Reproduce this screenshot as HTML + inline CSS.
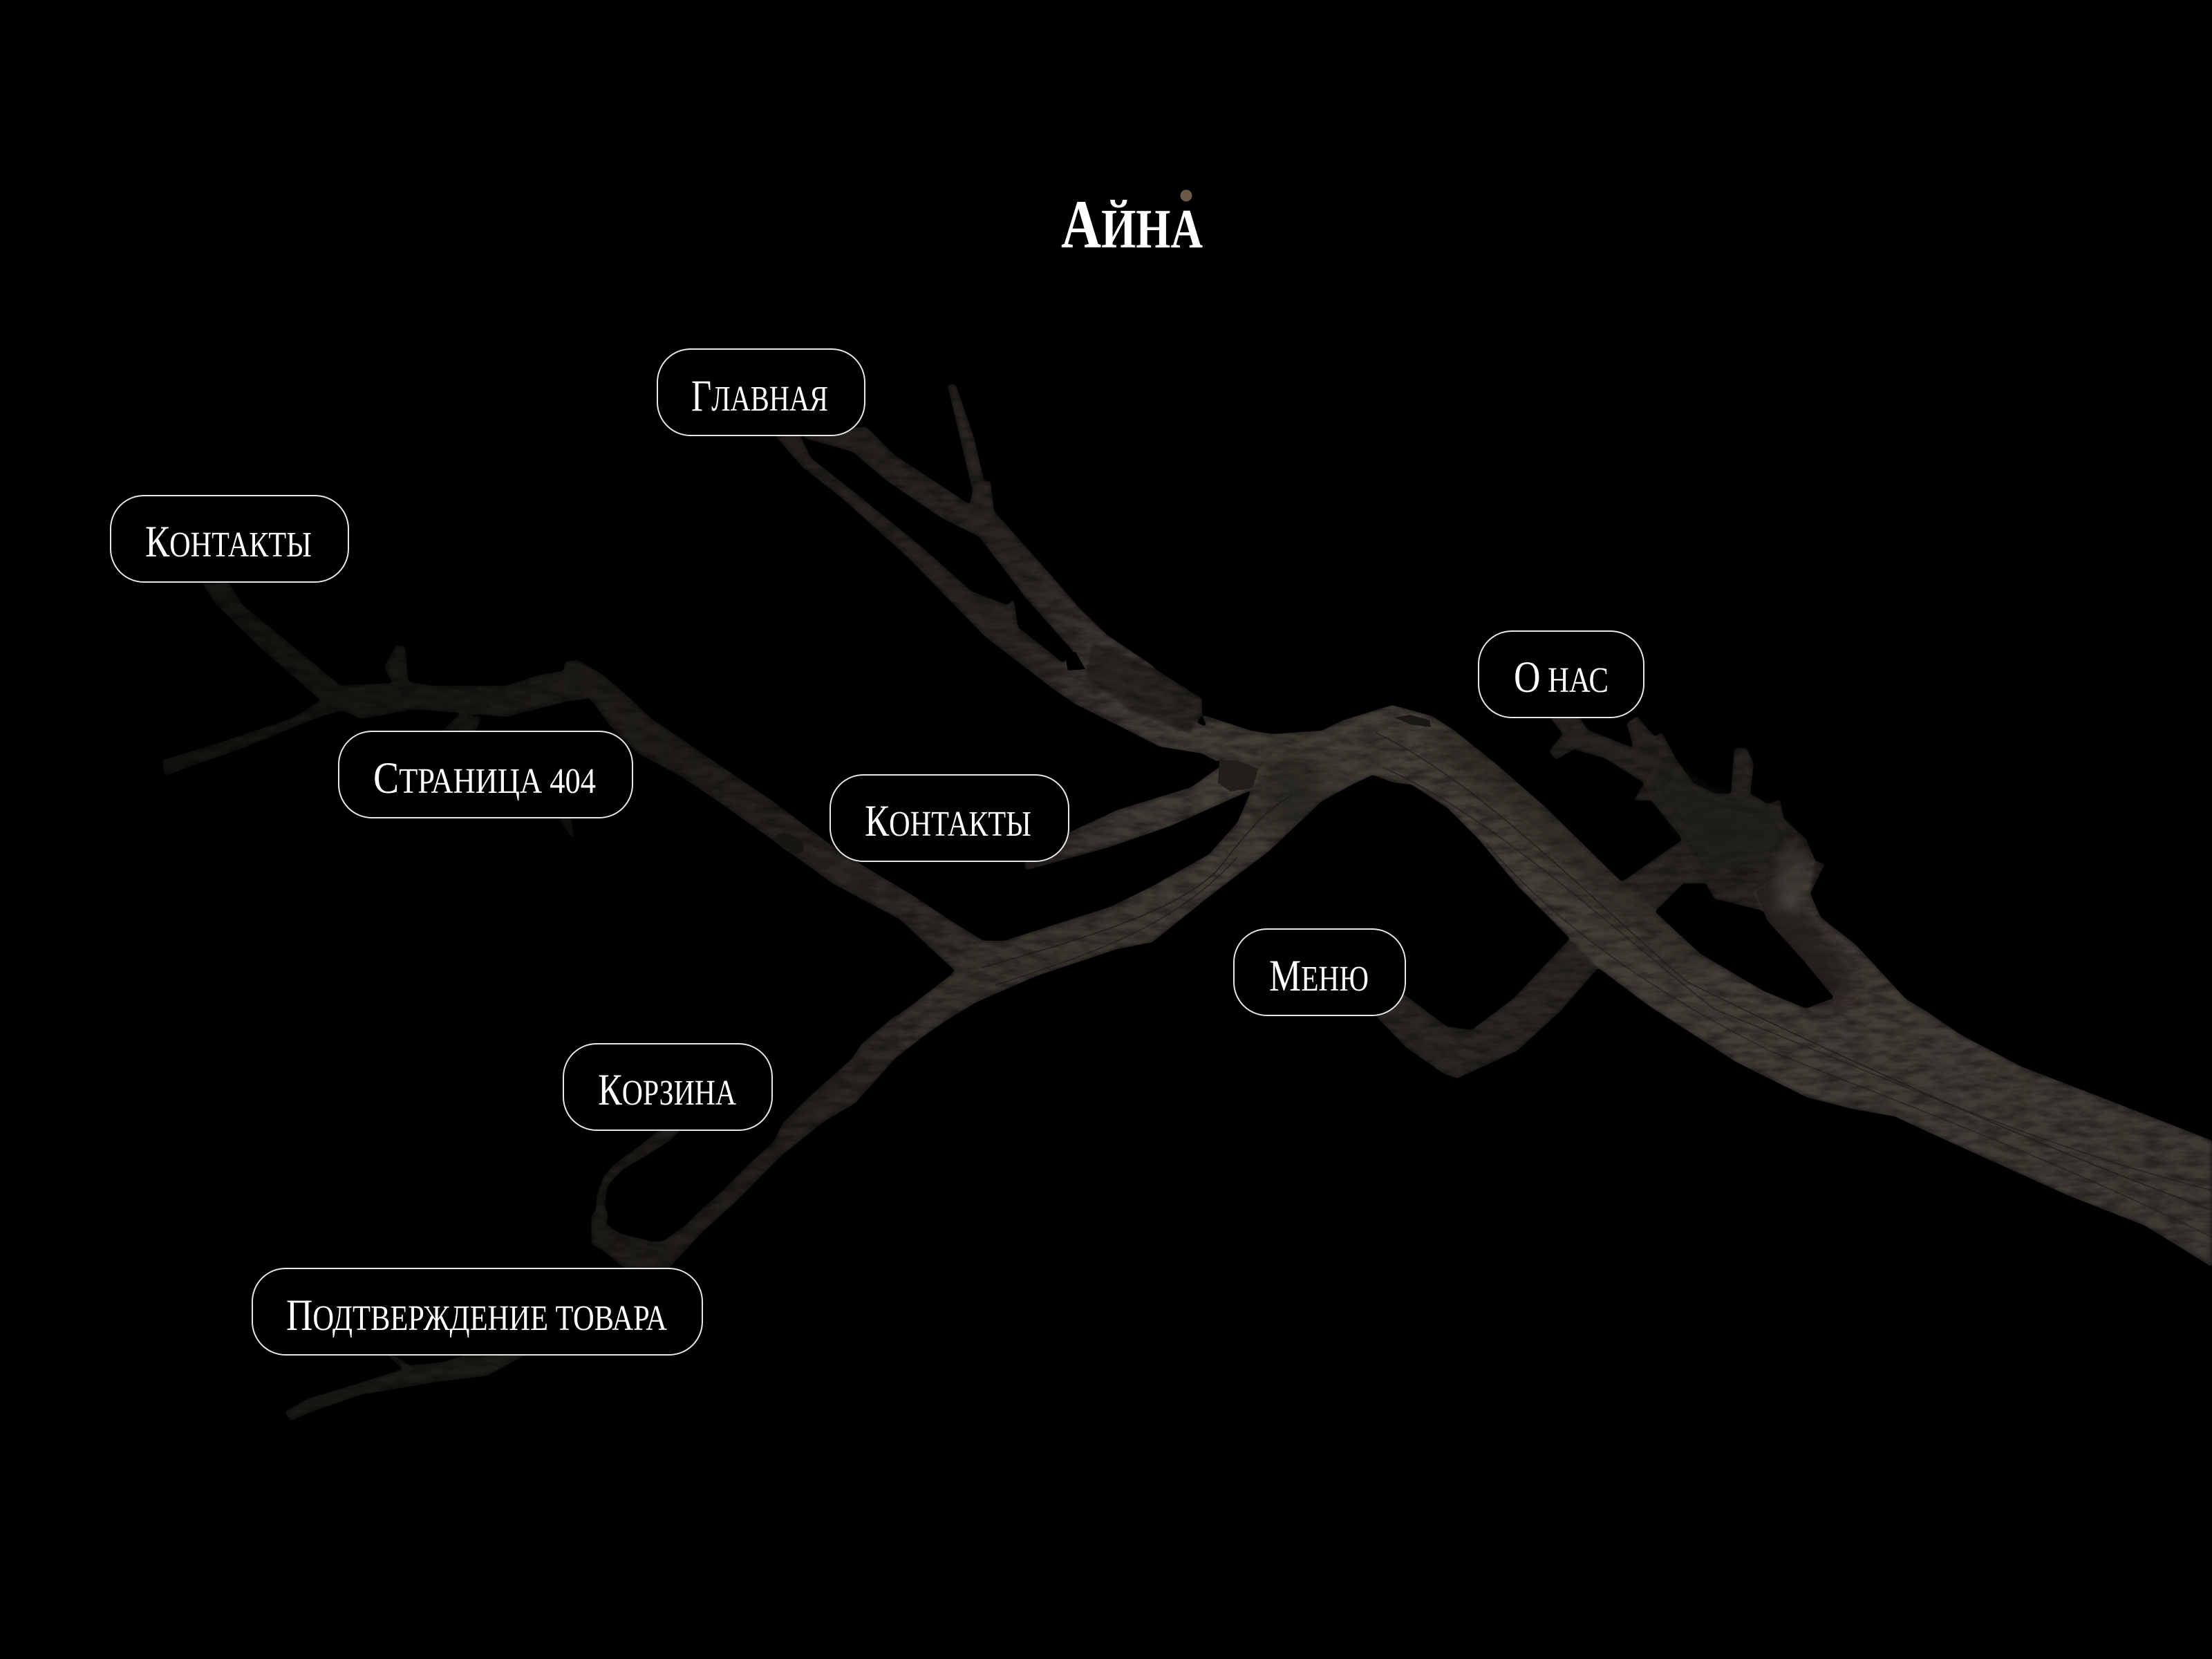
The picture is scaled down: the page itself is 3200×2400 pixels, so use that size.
<!DOCTYPE html>
<html lang="ru"><head><meta charset="utf-8"><title>Айна</title>
<style>
html,body{margin:0;padding:0;background:#000;width:3200px;height:2400px;overflow:hidden}
svg{display:block}
.t{font-family:"Liberation Serif","Noto Serif CJK SC",serif;fill:#fff;text-transform:uppercase}
.b{fill:#000;stroke:#e8e8e8;stroke-width:2}
</style></head><body>
<svg width="3200" height="2400" viewBox="0 0 3200 2400" xmlns="http://www.w3.org/2000/svg">
<defs>
<linearGradient id="g" gradientUnits="userSpaceOnUse" x1="200" y1="0" x2="2000" y2="0">
<stop offset="0" stop-color="#161411"/><stop offset=".3" stop-color="#1b1916"/><stop offset=".5" stop-color="#24211d"/><stop offset=".7" stop-color="#35312c"/><stop offset="1" stop-color="#443f38"/>
</linearGradient>
<linearGradient id="g2" gradientUnits="userSpaceOnUse" x1="1300" y1="0" x2="3200" y2="0">
<stop offset="0" stop-color="#35312b"/><stop offset=".25" stop-color="#423d36"/><stop offset=".6" stop-color="#443f38"/><stop offset="1" stop-color="#3e3a34"/>
</linearGradient>
<linearGradient id="g3" gradientUnits="userSpaceOnUse" x1="1150" y1="0" x2="1750" y2="0">
<stop offset="0" stop-color="#25221e"/><stop offset=".55" stop-color="#2a2723"/><stop offset=".8" stop-color="#3f3a34"/><stop offset="1" stop-color="#443f38"/>
</linearGradient>
<filter id="bark" x="0" y="0" width="3200" height="2400" filterUnits="userSpaceOnUse" color-interpolation-filters="sRGB">
<feGaussianBlur in="SourceGraphic" stdDeviation="2" result="b"/>
<feComponentTransfer in="b" result="shape"><feFuncA type="linear" slope="5" intercept="-2"/></feComponentTransfer>
<feTurbulence type="fractalNoise" baseFrequency="0.03 0.09" numOctaves="4" seed="7" result="n"/>
<feColorMatrix in="n" type="matrix" values="0 0 0 0 0 0 0 0 0 0 0 0 0 0 0 0.8 0 0 0 -0.28" result="dark"/>
<feComposite in="dark" in2="shape" operator="in" result="darkIn"/>
<feGaussianBlur in="shape" stdDeviation="4" result="sb"/>
<feColorMatrix in="sb" type="matrix" values="0 0 0 0 0 0 0 0 0 0 0 0 0 0 0 0 0 0 -0.6 0.58" result="rimA"/>
<feComposite in="rimA" in2="shape" operator="in" result="rim"/>
<feMerge><feMergeNode in="shape"/><feMergeNode in="darkIn"/><feMergeNode in="rim"/></feMerge>
</filter>
<filter id="blur" x="-30%" y="-30%" width="160%" height="160%"><feGaussianBlur stdDeviation="14"/></filter>
<filter id="blur2" x="-30%" y="-30%" width="160%" height="160%"><feGaussianBlur stdDeviation="6"/></filter>
<clipPath id="cp"><path d="M1810,1057 1841,1062 1912,1057 1943,1042 2014,1020 2072,1036 2103,1056 2164,1105 2236,1168 2348,1278 2394,1319 2460,1380 2552,1434 2613,1459 2639,1449 2654,1444 2608,1388 2557,1332 2540,1290 2600,1250 2626,1245 2618,1291 2634,1327 2685,1367 2757,1445 2790,1465 2835,1496 2924,1543 3036,1586 3200,1650 3200,1833 3103,1773 2991,1729 2812,1648 2741,1615 2679,1604 2613,1587 2511,1536 2384,1454 2312,1400 2256,1342 2195,1281 2139,1214 2093,1168 2042,1135 2016,1132 1986,1121 1958,1134 1912,1159 1836,1231 1749,1297 1667,1363 1616,1373 1499,1412 1412,1450 1361,1481 1300,1524 1300,1470 1377,1409 1410,1361 1453,1361 1606,1312 1667,1282 1749,1236 1790,1190 1810,1144 1820,1129 1765,1098 1739,1034Z"/></clipPath>
</defs>
<rect width="3200" height="2400" fill="#000"/>

<g filter="url(#bark)" stroke-linejoin="round">
<!-- left branch -->
<path fill="url(#g)" stroke="url(#g)" stroke-width="4" d="M1425,1365 1375,1334 1321,1298 1254,1258 1205,1227 1116,1160 1036,1106 991,1075 942,1042 906,1008 870,977 835,957 819,959 817,972 778,979 732,994 625,994 589,988 584,936 574,936 558,965 571,990 492,994 410,926 349,876 324,835 290,835 313,872 375,933 467,1013 426,1040 319,1076 237,1101 239,1120 354,1079 467,1033 497,1026 523,1038 599,1024 732,1035 819,1013 854,1008 884,1048 924,1088 987,1122 1049,1164 1125,1218 1205,1276 1304,1329 1357,1379 1379,1399 1420,1420Z"/>
<path fill="#1a1815" d="M632,1065 665,1033 696,1038 686,1065Z"/>
<path fill="#171512" d="M805,1180 831,1217 826,1180Z"/>
<!-- lower-left branch -->
<path fill="url(#g)" stroke="url(#g)" stroke-width="3" d="M1300,1470 1378,1411 1420,1400 1420,1430 1400,1453 1343,1492 1294,1530 1236,1595 1190,1622 1129,1671 1068,1733 1014,1782 961,1840 911,1840 880,1813 857,1798 857,1759 863,1752 865,1729 875,1702 888,1687 930,1656 961,1630 987,1630 968,1649 938,1668 900,1691 878,1714 873,1744 878,1759 875,1771 896,1786 945,1798 961,1796 991,1775 1010,1756 1045,1725 1083,1687 1121,1652 1133,1626 1160,1599 1194,1568 1232,1534 1248,1511 1294,1472Z"/>
<!-- bottom twig -->
<path fill="#1d1b17" stroke="#1d1b17" stroke-width="3" d="M551,1950 593,1977 642,1972 705,1950 775,1950 705,1989 635,1997 522,2016 445,2043 421,2054 414,2043 445,2025 515,2004 586,1981Z"/>
<!-- contact-2 branch -->
<path fill="url(#g3)" d="M1762,1111 1723,1139 1616,1172 1545,1205 1480,1230 1484,1259 1606,1225 1693,1195 1808,1144 1830,1130 1790,1100Z"/>
<!-- upper branch -->
<path fill="url(#g3)" stroke="url(#g3)" stroke-width="4" d="M1150,620 1253,620 1293,660 1351,698 1404,733 1409,710 1373,558 1381,558 1407,633 1422,698 1431,698 1436,740 1521,836 1561,882 1600,920 1667,965 1700,1030 1600,1020 1556,943 1485,863 1418,775 1364,748 1284,694 1235,652 1168,633Z"/>
<!-- lower twin branch -->
<path fill="url(#g3)" stroke="url(#g3)" stroke-width="4" d="M1150,620 1172,664 1239,717 1329,790 1404,857 1458,878 1465,870 1471,909 1520,947 1538,962 1556,943 1620,1000 1760,1060 1762,1100 1739,1088 1678,1078 1627,1052 1555,1016 1525,995 1427,920 1382,874 1315,805 1217,717 1163,675 1115,620Z"/>
<!-- stump -->
<path fill="#292622" d="M1580,930 1667,965 1739,1011 1739,1034 1721,1060 1640,1030 1570,980Z"/>
<!-- menu branch -->
<path fill="#2b2824" d="M2020,1430 2093,1485 2129,1490 2190,1444 2269,1360 2340,1280 2435,1214 2500,1230 2486,1278 2435,1278 2394,1319 2312,1400 2256,1464 2195,1520 2108,1560 2088,1553 2034,1515 1981,1460Z"/>
<!-- arm and knot -->
<path fill="#282521" d="M2235,1030 2261,1061 2241,1087 2251,1099 2277,1084 2322,1097 2379,1133 2363,1158 2389,1158 2430,1209 2480,1300 2600,1330 2640,1250 2626,1245 2613,1214 2580,1184 2575,1156 2557,1163 2532,1148 2537,1105 2527,1082 2509,1082 2504,1148 2481,1148 2450,1133 2424,1097 2404,1059 2394,1066 2368,1036 2353,1046 2363,1082 2297,1056 2280,1030Z"/>
<!-- trunk -->
<path fill="url(#g2)" d="M1810,1057 1841,1062 1912,1057 1943,1042 2014,1020 2072,1036 2103,1056 2164,1105 2236,1168 2348,1278 2394,1319 2460,1380 2552,1434 2613,1459 2639,1449 2654,1444 2608,1388 2557,1332 2540,1290 2600,1250 2626,1245 2618,1291 2634,1327 2685,1367 2757,1445 2790,1465 2835,1496 2924,1543 3036,1586 3200,1650 3200,1833 3103,1773 2991,1729 2812,1648 2741,1615 2679,1604 2613,1587 2511,1536 2384,1454 2312,1400 2256,1342 2195,1281 2139,1214 2093,1168 2042,1135 2016,1132 1986,1121 1958,1134 1912,1159 1836,1231 1749,1297 1667,1363 1616,1373 1499,1412 1412,1450 1361,1481 1300,1524 1300,1470 1377,1409 1410,1361 1453,1361 1606,1312 1667,1282 1749,1236 1790,1190 1810,1144 1820,1129 1765,1098 1739,1034Z"/>
</g>

<!-- shading -->
<g clip-path="url(#cp)">
<path d="M2090,1060 2240,1180 2350,1290 2470,1390" fill="none" stroke="#1d1b18" stroke-width="60" opacity=".4" filter="url(#blur)"/>
<ellipse cx="1870" cy="1150" rx="45" ry="60" fill="#1d1b18" opacity=".55" filter="url(#blur)"/>
<path d="M2530,1270 2600,1360 2660,1450" fill="none" stroke="#1a1815" stroke-width="70" opacity=".7" filter="url(#blur)"/>
<path d="M1990,1060 C2140,1130 2300,1300 2440,1420 C2600,1500 2900,1640 3200,1751" fill="none" stroke="#1f1d1a" stroke-width="2" opacity=".7"/>
<path d="M2000,1110 C2160,1180 2340,1350 2480,1460 C2680,1540 2950,1660 3200,1722" fill="none" stroke="#1f1d1a" stroke-width="2" opacity=".6"/>
<path d="M2150,1220 C2260,1350 2420,1450 2560,1520 C2760,1600 2980,1680 3200,1790" fill="none" stroke="#1f1d1a" stroke-width="2" opacity=".55"/>
<path d="M1420,1400 C1560,1360 1700,1320 1760,1260 1800,1210 1830,1170 1870,1150" fill="none" stroke="#1c1a17" stroke-width="2" opacity=".7"/>
<path d="M1440,1425 C1580,1380 1700,1340 1790,1240" fill="none" stroke="#1c1a17" stroke-width="2" opacity=".6"/>
</g>
<!-- dark patches -->
<path fill="#1c1a17" d="M2385,1130 2420,1110 2470,1150 2560,1170 2600,1220 2540,1250 2500,1240 2480,1270 2440,1210 2410,1170Z" opacity=".65" filter="url(#blur)"/>
<path fill="#3f3b36" d="M2570,1240 2590,1215 2618,1245 2610,1290 2600,1325 2565,1320Z" opacity=".55" filter="url(#blur2)"/>
<ellipse cx="2590" cy="1300" rx="14" ry="12" fill="#5f5b55" opacity=".35" filter="url(#blur2)"/>
<path fill="#1a1815" d="M2018,1038 2040,1034 2068,1042 2070,1052 2040,1048Z"/>
<path fill="#221f1b" d="M1764,1100 1790,1100 1820,1112 1812,1140 1780,1145 1762,1132Z"/>
<path fill="#000" d="M1540,945 1556,943 1570,968 1545,970Z"/>
<ellipse cx="1143" cy="1220" rx="22" ry="12" transform="rotate(30 1143 1220)" fill="#181613"/>

<!-- logo -->
<text class="t" x="1535" y="358" textLength="205" lengthAdjust="spacingAndGlyphs" font-weight="700" font-size="80"><tspan font-size="100">А</tspan>йна</text>
<circle cx="1716" cy="283" r="8.5" fill="#6b5a48"/>

<!-- nodes -->
<rect class="b" x="951" y="505" width="300" height="125" rx="48"/>
<text class="t" x="1000" y="594" textLength="198" lengthAdjust="spacingAndGlyphs" font-size="52"><tspan font-size="65">Г</tspan>лавная</text>

<rect class="b" x="160" y="717" width="344" height="125" rx="48"/>
<text class="t" x="210" y="805" textLength="241" lengthAdjust="spacingAndGlyphs" font-size="52"><tspan font-size="65">К</tspan>онтакты</text>

<rect class="b" x="490" y="1058" width="425" height="125" rx="48"/>
<text class="t" x="540" y="1147" textLength="322" lengthAdjust="spacingAndGlyphs" font-size="52"><tspan font-size="65">С</tspan>траница 404</text>

<rect class="b" x="1201" y="1121" width="345" height="125" rx="48"/>
<text class="t" x="1251" y="1209" textLength="241" lengthAdjust="spacingAndGlyphs" font-size="52"><tspan font-size="65">К</tspan>онтакты</text>

<rect class="b" x="2139" y="913" width="239" height="125" rx="48"/>
<text class="t" x="2190" y="1001" textLength="137" lengthAdjust="spacingAndGlyphs" font-size="52"><tspan font-size="65">О</tspan> нас</text>

<rect class="b" x="1785" y="1344" width="248" height="125" rx="48"/>
<text class="t" x="1836" y="1433" textLength="144" lengthAdjust="spacingAndGlyphs" font-size="52"><tspan font-size="65">М</tspan>еню</text>

<rect class="b" x="815" y="1510" width="302" height="125" rx="48"/>
<text class="t" x="865" y="1598" textLength="200" lengthAdjust="spacingAndGlyphs" font-size="52"><tspan font-size="65">К</tspan>орзина</text>

<rect class="b" x="365" y="1835" width="651" height="125" rx="48"/>
<text class="t" x="414" y="1924" textLength="551" lengthAdjust="spacingAndGlyphs" font-size="52"><tspan font-size="65">П</tspan>одтверждение товара</text>
</svg>
</body></html>
